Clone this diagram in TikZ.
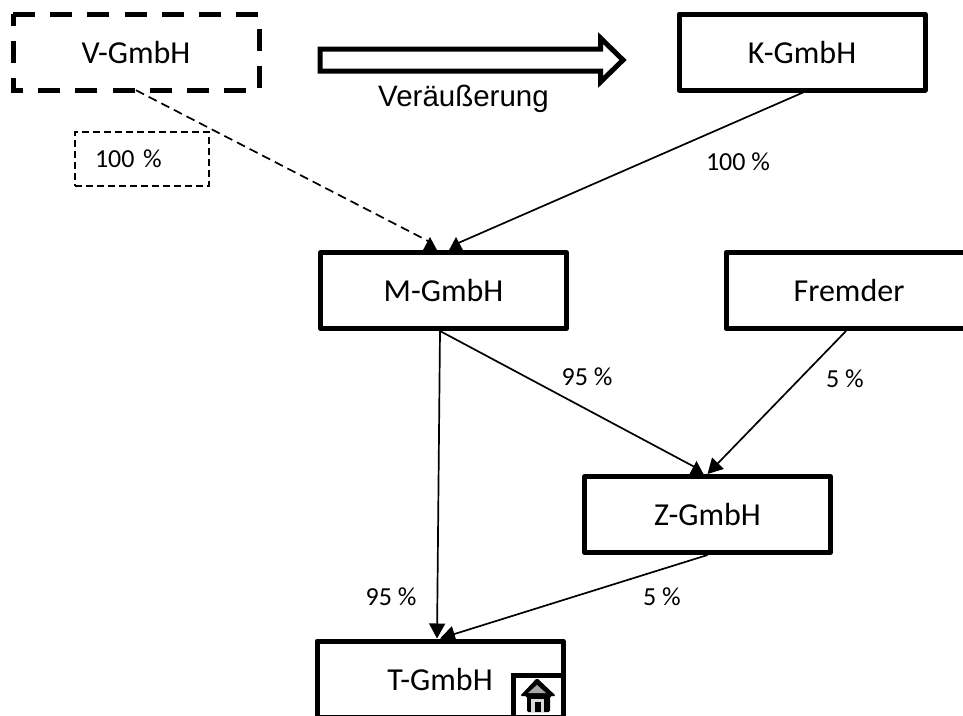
\documentclass[tikz,border=0pt]{standalone}
\usepackage{fontspec}
\setmainfont{Carlito}
\newfontfamily\arialfont{Liberation Sans}
\usetikzlibrary{arrows.meta}
\tikzset{
  gmbh/.style={draw, line width=5pt, line join=round, minimum width=246pt, minimum height=76pt, font=\fontsize{32}{36}\selectfont},
  anteil/.style={font=\fontsize{26}{30}\selectfont},
  link/.style={line width=1.7pt},
  linktip/.style={link, -{Triangle[length=15pt,width=16pt]}},
}
\newcommand{\spitze}[1]{\fill (#1) ++(-7.5,0) -- ++(7.5,-14) -- ++(7.5,14) -- cycle}
\begin{document}
\begin{tikzpicture}[x=1pt,y=-1pt]
  \useasboundingbox (0,0) rectangle (963,715);
  \clip (0,0) rectangle (963,715);
  % gesellschaften
  \node[gmbh, draw=none, outer sep=0pt] (vgmbh) at (136,52.25) {V-GmbH};
  \draw[line width=5pt, dash pattern=on 22pt off 15.2pt] (vgmbh.north west) -- (vgmbh.north east) -- (vgmbh.south east) -- (vgmbh.south west) -- cycle;
  \node[gmbh] (kgmbh) at (802,52) {K-GmbH};
  \node[gmbh] (mgmbh) at (443.5,290.5) {M-GmbH};
  \node[gmbh] (fremder) at (849,290.5) {Fremder};
  \node[gmbh] (zgmbh) at (707.5,514.5) {Z-GmbH};
  \node[gmbh] (tgmbh) at (440,679) {T-GmbH};
  % veraeusserung
  \draw[line width=5pt, miter limit=10] (320,49) -- (600.5,49) -- (600.5,38) -- (623,60) -- (600.5,82) -- (600.5,71) -- (320,71) -- cycle;
  \node[font=\arialfont\fontsize{29.5}{34}\selectfont] (veraeusserung) at (463.5,99) {Veräußerung};
  % beteiligungen
  \draw[link, dash pattern=on 9pt off 5.2pt] (vgmbh.south) -- ([xshift=-13.5pt,yshift=8pt]mgmbh.north);
  \spitze{[xshift=-13.5pt,yshift=-1pt]mgmbh.north};
  \draw[link] ([xshift=1pt]kgmbh.south) -- ([xshift=12.5pt,yshift=6pt]mgmbh.north);
  \spitze{[xshift=12.5pt,yshift=-1pt]mgmbh.north};
  \draw[linktip] ([xshift=-3.5pt]mgmbh.south) -- ([xshift=-3pt]tgmbh.north);
  \draw[link] ([xshift=-3.5pt]mgmbh.south) -- ([xshift=-11pt,yshift=6pt]zgmbh.north);
  \spitze{[xshift=-11pt,yshift=-1pt]zgmbh.north};
  \draw[linktip] ([xshift=-3pt]fremder.south) -- (zgmbh.north);
  \draw[linktip] (zgmbh.south) -- (tgmbh.north);
  % prozente
  \node[draw, line width=1.2pt, dash pattern=on 7pt off 4pt, anteil, minimum width=134pt, minimum height=54pt, inner xsep=20pt, text width=94pt] (vanteil) at (142,159) {100 \%};
  \node[anteil] (kanteil) at (738,162) {100 \%};
  \node[anteil] (mzanteil) at (587,377) {95 \%};
  \node[anteil] (fanteil) at (845,379) {5 \%};
  \node[anteil] (mtanteil) at (391,597) {95 \%};
  \node[anteil] (zanteil) at (662,597) {5 \%};
  % haus
  \draw[line width=5pt] (513.5,715) -- (513.5,675) -- (564,675);
  \fill[rounded corners=1.5pt] (537,678) -- (556,696) -- (550,696) -- (550,712) -- (527,712) -- (527,696) -- (520,696) -- cycle;
  \fill[gray!70] (537,685) -- (546,693) -- (528,693) -- cycle;
  \fill[gray!30] (531,699) rectangle (544,712);
  \fill (534.5,702) rectangle (540.5,712);
\end{tikzpicture}
\end{document}
